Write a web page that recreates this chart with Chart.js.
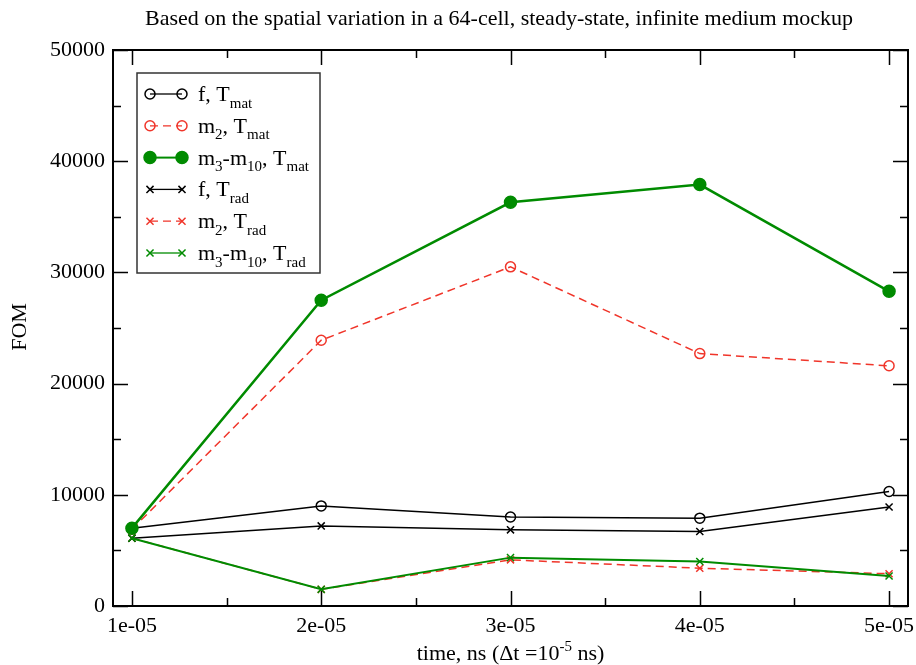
<!DOCTYPE html>
<html lang="en">
<head>
  <meta charset="UTF-8" />
  <title>FOM vs time</title>
  <script src="https://cdn.jsdelivr.net/npm/chart.js"></script>
  <style>
    * { box-sizing: border-box; }
    body { margin: 0; background: #fff; }
    #wrap { position: relative; width: 916px; height: 665px; }
  </style>
</head>
<body>
  <div id="wrap"><canvas id="fomChart"></canvas></div>

  <script>
    // time steps (ns) and FOM values per tally
    const times = [1e-5, 2e-5, 3e-5, 4e-5, 5e-5];
    const xTickLabels = ['1e-05', '2e-05', '3e-05', '4e-05', '5e-05'];
    const yTickValues = [0, 10000, 20000, 30000, 40000, 50000];

    const fMat  = [7000, 9000, 8000, 7900, 10300];
    const m2Mat = [6900, 23900, 30500, 22700, 21600];
    const m3Mat = [7000, 27500, 36300, 37900, 28300];
    const fRad  = [6100, 7200, 6850, 6700, 8900];
    const m2Rad = [6100, 1500, 4150, 3400, 2900];
    const m3Rad = [6100, 1500, 4350, 4000, 2700];

    const SERIF = "'Liberation Serif', 'Times New Roman', serif";
    const BLACK = '#000';
    const RED = '#f0352a';
    const GREEN = '#008b00';

    const toPoints = ys => ys.map((y, i) => ({ x: times[i], y: y }));

    // legend text pieces: [text, 0 normal / 1 subscript / 2 superscript]
    const series = [
      { data: fMat,  color: BLACK, dash: [],     style: 'circle',   filled: false, width: 1.5, r: 5, text: [['f, T', 0], ['mat', 1]] },
      { data: m2Mat, color: RED,   dash: [8, 5], style: 'circle',   filled: false, width: 1.5, r: 5, text: [['m', 0], ['2', 1], [', T', 0], ['mat', 1]] },
      { data: m3Mat, color: GREEN, dash: [],     style: 'circle',   filled: true,  width: 2.5, r: 6, text: [['m', 0], ['3', 1], ['-m', 0], ['10', 1], [', T', 0], ['mat', 1]] },
      { data: fRad,  color: BLACK, dash: [],     style: 'crossRot', filled: false, width: 1.5, r: 5, text: [['f, T', 0], ['rad', 1]] },
      { data: m2Rad, color: RED,   dash: [8, 5], style: 'crossRot', filled: false, width: 1.5, r: 5, text: [['m', 0], ['2', 1], [', T', 0], ['rad', 1]] },
      { data: m3Rad, color: GREEN, dash: [],     style: 'crossRot', filled: false, width: 2,   r: 5, text: [['m', 0], ['3', 1], ['-m', 0], ['10', 1], [', T', 0], ['rad', 1]] }
    ];

    function drawRich(ctx, parts, x, y, size, align) {
      const big = size + 'px ' + SERIF;
      const small = Math.round(size * 0.68) + 'px ' + SERIF;
      let total = 0;
      parts.forEach(p => {
        ctx.font = p[1] ? small : big;
        total += ctx.measureText(p[0]).width;
      });
      let cx = align === 'center' ? x - total / 2 : x;
      ctx.textBaseline = 'alphabetic';
      ctx.textAlign = 'left';
      parts.forEach(p => {
        ctx.font = p[1] ? small : big;
        const dy = p[1] === 1 ? size * 0.3 : (p[1] === 2 ? -size * 0.42 : 0);
        ctx.fillText(p[0], cx, y + dy);
        cx += ctx.measureText(p[0]).width;
      });
    }

    // frame, inward ticks, titles and legend
    const decorPlugin = {
      id: 'decor',
      beforeDatasetsDraw(chart) {
        const { ctx, chartArea: a, scales } = chart;
        ctx.save();
        ctx.strokeStyle = BLACK;
        ctx.lineWidth = 1.5;
        ctx.beginPath();
        for (let v = 1e-5; v <= 5.0001e-5; v += 0.5e-5) {
          const px = Math.round(scales.x.getPixelForValue(v)) + 0.5;
          const major = Math.abs(v / 1e-5 - Math.round(v / 1e-5)) < 1e-6;
          const len = major ? 15 : 8;
          ctx.moveTo(px, a.bottom); ctx.lineTo(px, a.bottom - len);
          ctx.moveTo(px, a.top); ctx.lineTo(px, a.top + len);
        }
        for (let v = 0; v <= 50000; v += 5000) {
          const py = Math.round(scales.y.getPixelForValue(v)) + 0.5;
          const len = v % 10000 === 0 ? 15 : 8;
          ctx.moveTo(a.left, py); ctx.lineTo(a.left + len, py);
          ctx.moveTo(a.right, py); ctx.lineTo(a.right - len, py);
        }
        ctx.stroke();
        ctx.lineWidth = 2;
        ctx.strokeRect(a.left, a.top, a.right - a.left, a.bottom - a.top);
        ctx.restore();
      },
      afterDraw(chart) {
        const { ctx, chartArea: a } = chart;
        ctx.save();
        ctx.fillStyle = BLACK;

        // title
        ctx.font = '22px ' + SERIF;
        ctx.textAlign = 'center';
        ctx.textBaseline = 'alphabetic';
        ctx.fillText('Based on the spatial variation in a 64-cell, steady-state, infinite medium mockup', 499, 25);

        // x title
        drawRich(ctx, [['time, ns (\u0394t =10', 0], ['-5', 2], [' ns)', 0]], (a.left + a.right) / 2, 660, 22, 'center');

        // y title
        ctx.save();
        ctx.translate(26, 327);
        ctx.rotate(-Math.PI / 2);
        ctx.font = '22px ' + SERIF;
        ctx.textAlign = 'center';
        ctx.fillText('FOM', 0, 0);
        ctx.restore();

        // legend
        const bx = 137, by = 73, bw = 183, bh = 200;
        ctx.fillStyle = '#fff';
        ctx.fillRect(bx, by, bw, bh);
        ctx.strokeStyle = '#333';
        ctx.lineWidth = 1.5;
        ctx.strokeRect(bx, by, bw, bh);
        series.forEach((s, i) => {
          const ry = by + 21 + i * 31.8;
          ctx.strokeStyle = s.color;
          ctx.lineWidth = s.width === 2.5 ? 2 : 1.3;
          ctx.setLineDash(s.dash);
          ctx.beginPath();
          ctx.moveTo(150, ry); ctx.lineTo(182, ry);
          ctx.stroke();
          ctx.setLineDash([]);
          [150, 182].forEach(mx => {
            ctx.fillStyle = s.filled ? s.color : 'rgba(0,0,0,0)';
            ctx.strokeStyle = s.color;
            ctx.lineWidth = 1.5;
            Chart.helpers.drawPoint(ctx, { pointStyle: s.style, radius: s.r, borderWidth: 1.5, rotation: 0 }, mx, ry);
          });
          ctx.fillStyle = BLACK;
          drawRich(ctx, s.text, 198, ry + 7, 22, 'left');
        });
        ctx.restore();
      }
    };

    new Chart(document.getElementById('fomChart'), {
      type: 'line',
      data: {
        datasets: series.map((s, i) => ({
          label: 'series' + i,
          data: toPoints(s.data),
          borderColor: s.color,
          backgroundColor: s.filled ? s.color : 'rgba(0,0,0,0)',
          borderWidth: s.width,
          borderDash: s.dash,
          pointStyle: s.style,
          pointRadius: s.r,
          pointBorderWidth: 1.5,
          pointBackgroundColor: s.filled ? s.color : 'rgba(0,0,0,0)',
          pointBorderColor: s.color,
          tension: 0,
          fill: false,
          order: i === 2 ? 0 : (i === 5 ? 1 : 2)
        }))
      },
      options: {
        responsive: true,
        maintainAspectRatio: false,
        animation: false,
        devicePixelRatio: 1,
        layout: { padding: { top: 50, right: 8, left: 0, bottom: 0 } },
        plugins: {
          legend: { display: false },
          tooltip: { enabled: false },
          title: { display: false }
        },
        scales: {
          x: {
            type: 'linear',
            min: 0.9e-5,
            max: 5.1e-5,
            grid: { display: false, drawTicks: false },
            border: { display: false },
            afterFit(scale) {
              scale.height = 59;
              scale.paddingLeft = 0;
              scale.paddingRight = 0;
            },
            afterBuildTicks(scale) { scale.ticks = times.map(v => ({ value: v })); },
            ticks: {
              color: BLACK,
              font: { family: SERIF, size: 22 },
              padding: 7,
              maxRotation: 0,
              autoSkip: false,
              callback: (v, i) => xTickLabels[i]
            }
          },
          y: {
            min: 0,
            max: 50000,
            grid: { display: false, drawTicks: false },
            border: { display: false },
            afterFit(scale) {
              scale.width = 113;
              scale.paddingTop = 0;
              scale.paddingBottom = 0;
            },
            afterBuildTicks(scale) { scale.ticks = yTickValues.map(v => ({ value: v })); },
            ticks: {
              color: BLACK,
              font: { family: SERIF, size: 22 },
              padding: 8,
              callback: v => String(v)
            }
          }
        }
      },
      plugins: [decorPlugin]
    });
  </script>
</body>
</html>
